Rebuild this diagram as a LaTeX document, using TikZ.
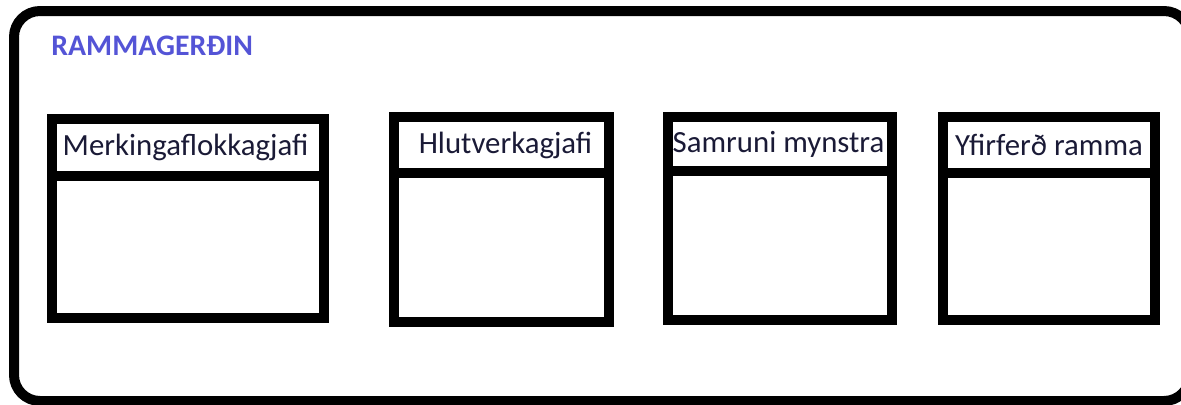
\documentclass[tikz,border=0pt]{standalone}
\usepackage{fontspec}
\setmainfont{Carlito}
\definecolor{titleblue}{HTML}{5454D6}
\definecolor{labeldark}{HTML}{1A1A36}
\usetikzlibrary{positioning}

\begin{document}
\begin{tikzpicture}[x=0.5pt,y=-0.5pt,
  frameline/.style={line width=5pt,rounded corners=13pt},
  boxline/.style={line width=5pt},
  boxlabel/.style={anchor=base,inner sep=0pt,text=labeldark,font=\fontsize{15.4}{18}\selectfont},
  titlelabel/.style={anchor=base west,inner sep=0pt,text=titleblue,font=\bfseries\fontsize{14.9}{17}\selectfont}]
  \clip (0,0) rectangle (1181,404);
  \useasboundingbox (0,0) rectangle (1181,404);
  % outer frame
  \draw[frameline] (14,11) rectangle (1190,401);
  \node[titlelabel] (title) at (51,55) {RAMMAGERÐIN};
  % boxes
  \draw[boxline] (52,119) rectangle (324,318);\draw[boxline] (52,175.5)--(324,175.5);
  \draw[boxline] (394,117) rectangle (609,322);\draw[boxline] (394,173)--(609,173);
  \draw[boxline] (668,117) rectangle (892,320);\draw[boxline] (668,171)--(892,171);
  \draw[boxline] (943,117) rectangle (1155,320);\draw[boxline] (943,173)--(1155,173);
  \node[boxlabel] (merk) at (185.5,155) {Merkingaflokkagjafi};
  \node[boxlabel] (hlut) at (505.5,153) {Hlutverkagjafi};
  \node[boxlabel] (samr) at (778.5,152) {Samruni mynstra};
  \node[boxlabel] (yfir) at (1049,155) {Yfirferð ramma};
\end{tikzpicture}
\end{document}
